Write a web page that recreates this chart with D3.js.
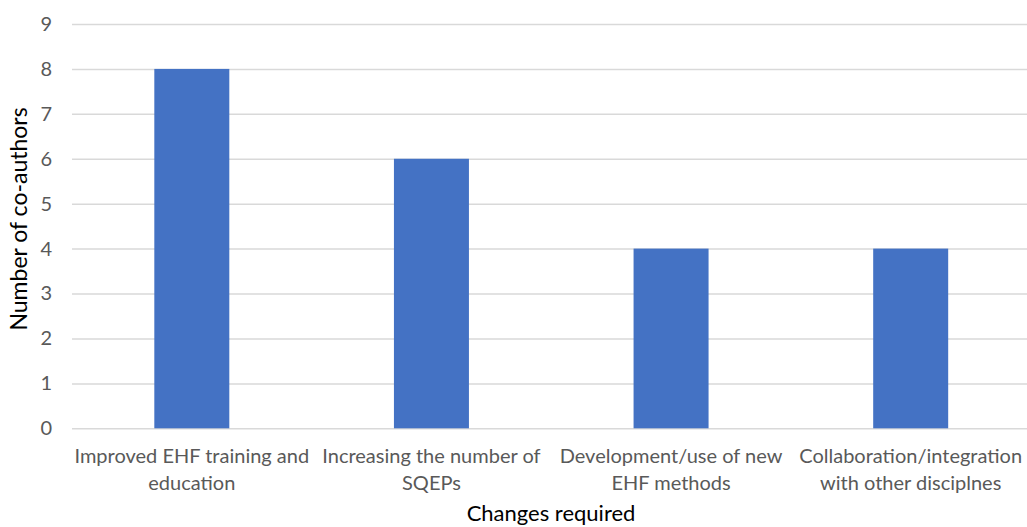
<!DOCTYPE html>
<html>
<head>
<meta charset="utf-8">
<script src="https://cdn.jsdelivr.net/npm/d3@7"></script>
<style>
  html, body { margin: 0; padding: 0; background: #ffffff; overflow: hidden; }
  svg { display: block; }
</style>
</head>
<body>
<svg id="chart" width="1027" height="527"></svg>
<script>
// Survey results: changes required, counted by co-author
const categories = [
  ["Improved EHF training and", "education"],
  ["Increasing the number of", "SQEPs"],
  ["Development/use of new", "EHF methods"],
  ["Collaboration/integration", "with other disciplnes"]
];
const values = [8, 6, 4, 4];
const yTicks = [0, 1, 2, 3, 4, 5, 6, 7, 8, 9];
const xTitle = "Changes required";
const yTitle = "Number of co-authors";

const svg = d3.select("#chart");
const font = "Lato, 'Open Sans', sans-serif";

const plot = { left: 72, right: 1030.5, top: 24, bottom: 428.3 };

const x = d3.scaleBand()
  .domain(d3.range(categories.length))
  .range([plot.left, plot.right])
  .paddingInner(0.687)
  .paddingOuter(0.3435);

const y = d3.scaleLinear()
  .domain([0, 9])
  .range([plot.bottom, plot.top]);

// Horizontal gridlines with value labels
const yAxis = d3.axisLeft(y)
  .tickValues(yTicks)
  .tickSize(-(plot.right - plot.left))
  .tickPadding(20)
  .tickFormat(d3.format("d"));

const gy = svg.append("g")
  .attr("transform", `translate(${plot.left},0)`)
  .call(yAxis);
gy.select(".domain").remove();
gy.selectAll(".tick line")
  .attr("stroke", "#d9d9d9")
  .attr("stroke-width", 1.5);
gy.selectAll(".tick text")
  .attr("fill", "#595959")
  .style("font-family", font)
  .style("font-size", "20px");

// Bars
svg.append("g")
  .selectAll("rect")
  .data(values)
  .join("rect")
  .attr("x", (d, i) => x(i))
  .attr("width", x.bandwidth())
  .attr("y", d => y(d))
  .attr("height", d => y(0) - y(d))
  .attr("fill", "#4472c4");

// Category labels (two lines each)
const xAxis = d3.axisBottom(x).tickSize(0).tickFormat(() => "");
const gx = svg.append("g")
  .attr("transform", `translate(0,${plot.bottom})`)
  .call(xAxis);
gx.select(".domain").remove();
gx.selectAll(".tick").each(function(i) {
  const t = d3.select(this).select("text")
    .attr("fill", "#595959")
    .attr("y", 0)
    .attr("dy", null)
    .style("font-family", font)
    .style("font-size", "20px")
    .attr("text-anchor", "middle");
  categories[i].forEach((line, k) => {
    t.append("tspan")
      .attr("x", 0)
      .attr("y", 35 + k * 27)
      .text(line);
  });
});

// Axis titles
svg.append("text")
  .attr("x", 551)
  .attr("y", 521)
  .attr("text-anchor", "middle")
  .attr("fill", "#000000")
  .style("font-family", font)
  .style("font-size", "22px")
  .text(xTitle);

svg.append("text")
  .attr("transform", `translate(27,219) rotate(-90)`)
  .attr("text-anchor", "middle")
  .attr("fill", "#000000")
  .style("font-family", font)
  .style("font-size", "23px")
  .text(yTitle);
</script>
</body>
</html>
